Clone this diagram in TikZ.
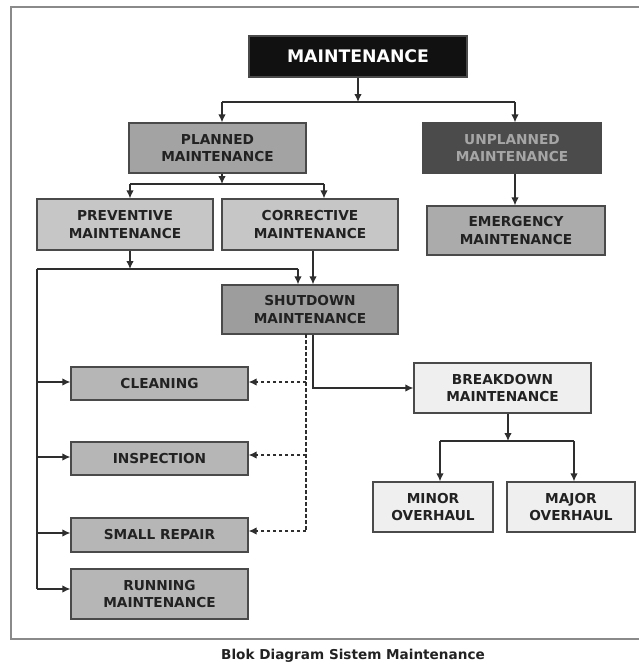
\documentclass[tikz,border=0pt]{standalone}
\usepackage{fontspec}
\setmainfont{DejaVu Sans}
\usetikzlibrary{arrows.meta}
\definecolor{boxline}{HTML}{4A4A4A}
\definecolor{wire}{HTML}{2E2E2E}
\definecolor{ink}{HTML}{222222}
\definecolor{frameline}{HTML}{8A8A8A}
\definecolor{cBlack}{HTML}{111111}
\definecolor{cPlanned}{HTML}{A3A3A3}
\definecolor{cUnplanned}{HTML}{4B4B4B}
\definecolor{cUnplannedText}{HTML}{A6A6A6}
\definecolor{cLight}{HTML}{C6C6C6}
\definecolor{cEmergency}{HTML}{ABABAB}
\definecolor{cShutdown}{HTML}{9D9D9D}
\definecolor{cTask}{HTML}{B6B6B6}
\definecolor{cPale}{HTML}{EFEFEF}
\tikzset{
  blk/.style={draw=boxline, line width=1.3pt, align=center, inner sep=0pt,
    text=ink, font=\fontsize{13.7}{17.5}\selectfont\bfseries},
  arr/.style={draw=wire, line width=1.3pt, -{Latex[length=8pt,width=7.5pt]}},
  wireline/.style={draw=wire, line width=1.3pt},
  dsh/.style={draw=wire, line width=1.3pt, dash pattern=on 3.5pt off 2.5pt},
  dsharr/.style={dsh, -{Latex[length=8pt,width=7.5pt]}},
}
\begin{document}
\begin{tikzpicture}[x=1pt, y=-1pt]
\useasboundingbox (0,0) rectangle (638,664);
\fill[white] (0,0) rectangle (638,664);
% outer frame
\draw[frameline, line width=1.8pt] (11,7) rectangle (660,639);

% boxes
\node[blk, fill=cBlack, text=white, font=\fontsize{17.3}{20}\selectfont\bfseries,
  minimum width=218pt, minimum height=41pt] (main) at (358,56.5) {MAINTENANCE};
\node[blk, fill=cPlanned, minimum width=177pt, minimum height=50pt] (planned) at (217.5,148) {PLANNED\\MAINTENANCE};
\node[blk, fill=cUnplanned, text=cUnplannedText, minimum width=178pt, minimum height=50pt] (unplanned) at (512,148) {UNPLANNED\\MAINTENANCE};
\node[blk, fill=cLight, minimum width=176pt, minimum height=51pt] (preventive) at (125,224.5) {PREVENTIVE\\MAINTENANCE};
\node[blk, fill=cLight, minimum width=176pt, minimum height=51pt] (corrective) at (310,224.5) {CORRECTIVE\\MAINTENANCE};
\node[blk, fill=cEmergency, minimum width=178pt, minimum height=49pt] (emergency) at (516,230.5) {EMERGENCY\\MAINTENANCE};
\node[blk, fill=cShutdown, minimum width=176pt, minimum height=49pt] (shutdown) at (310,309.5) {SHUTDOWN\\MAINTENANCE};
\node[blk, fill=cTask, minimum width=177pt, minimum height=33pt] (cleaning) at (159.5,383.5) {CLEANING};
\node[blk, fill=cTask, minimum width=177pt, minimum height=33pt] (inspection) at (159.5,458.5) {INSPECTION};
\node[blk, fill=cTask, minimum width=177pt, minimum height=34pt] (smallrepair) at (159.5,535) {SMALL REPAIR};
\node[blk, fill=cTask, minimum width=177pt, minimum height=50pt] (running) at (159.5,594) {RUNNING\\MAINTENANCE};
\node[blk, fill=cPale, minimum width=177pt, minimum height=50pt] (breakdown) at (502.5,388) {BREAKDOWN\\MAINTENANCE};
\node[blk, fill=cPale, minimum width=120pt, minimum height=50pt] (minor) at (433,507) {MINOR\\OVERHAUL};
\node[blk, fill=cPale, minimum width=128pt, minimum height=50pt] (major) at (571,507) {MAJOR\\OVERHAUL};

% junction points of the branching lines
\coordinate (j1) at (358,102);
\coordinate (j1L) at (222,102);
\coordinate (j1R) at (515,102);
\coordinate (j2) at (222,184);
\coordinate (j2L) at (130,184);
\coordinate (j2R) at (324,184);
\coordinate (j3) at (130,269);
\coordinate (busL) at (37,269);
\coordinate (j3R) at (298,269);
\coordinate (j4) at (508,441);
\coordinate (j4L) at (440,441);
\coordinate (j4R) at (574,441);
% rows where the task arrows meet their boxes
\coordinate (lC) at (37,382);
\coordinate (lI) at (37,457);
\coordinate (lS) at (37,533);
\coordinate (lR) at (37,589);
\coordinate (dTop) at (306,334);
\coordinate (dC) at (306,382);
\coordinate (dI) at (306,455);
\coordinate (dS) at (306,531);

% maintenance -> planned / unplanned
\draw[arr] (main.south) -- (j1);
\draw[wireline] (j1L) -- (j1R);
\draw[arr] (j1L) -- (planned.north -| j1L);
\draw[arr] (j1R) -- (unplanned.north -| j1R);

% planned -> preventive / corrective
\draw[arr] (planned.south -| j2) -- (j2);
\draw[wireline] (j2L) -- (j2R);
\draw[arr] (j2L) -- (preventive.north -| j2L);
\draw[arr] (j2R) -- (corrective.north -| j2R);

% unplanned -> emergency
\draw[arr] (unplanned.south -| j1R) -- (emergency.north -| j1R);

% preventive -> shutdown, and the task bus on the left
\draw[arr] (preventive.south -| j3) -- (j3);
\draw[wireline] (busL) -- (j3R);
\draw[arr] (j3R) -- (shutdown.north -| j3R);
\draw[wireline] (busL) -- (lR);
\draw[arr] (lC) -- (cleaning.west |- lC);
\draw[arr] (lI) -- (inspection.west |- lI);
\draw[arr] (lS) -- (smallrepair.west |- lS);
\draw[arr] (lR) -- (running.west |- lR);

% corrective -> shutdown
\draw[arr] ([xshift=3pt]corrective.south) -- ([xshift=3pt]shutdown.north);

% shutdown -> breakdown
\draw[arr] ([xshift=3pt]shutdown.south) |- (breakdown.west);

% shutdown -> tasks (dashed)
\draw[dsh] (dTop) -- (dS);
\draw[dsharr] (dC) -- (cleaning.east |- dC);
\draw[dsharr] (dI) -- (inspection.east |- dI);
\draw[dsharr] (dS) -- (smallrepair.east |- dS);

% breakdown -> overhauls
\draw[arr] (breakdown.south -| j4) -- (j4);
\draw[wireline] (j4L) -- (j4R);
\draw[arr] (j4L) -- (minor.north -| j4L);
\draw[arr] (j4R) -- (major.north -| j4R);

% caption
\node[text=ink, font=\fontsize{13.6}{16}\selectfont\bfseries] (caption) at (353,656) {Blok Diagram Sistem Maintenance};
\end{tikzpicture}
\end{document}
